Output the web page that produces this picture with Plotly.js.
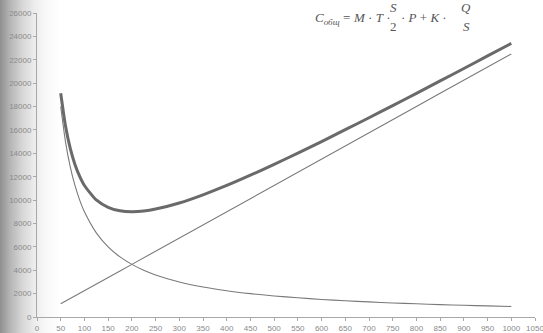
<!DOCTYPE html>
<html>
<head>
<meta charset="utf-8">
<script src="https://cdn.plot.ly/plotly-3.0.1.min.js"></script>
<style>
html,body{margin:0;padding:0;}
body{width:543px;height:333px;overflow:hidden;
background:linear-gradient(to right,#8f8f8f 0px,#b5b5b5 10px,#d6d6d6 22px,#ececec 34px,#f8f8f8 46px,#ffffff 60px);}
#chart{width:543px;height:333px;}
</style>
</head>
<body>
<div id="chart"></div>
<script>
// Order size S
var orderSize = [50,60,70,80,90,100,125,150,175,200,225,250,300,350,400,450,500,550,600,650,700,750,800,850,900,950,1000];
// Ordering cost K*Q/S
var orderingCost = [18000,15000,12860,11250,10000,9000,7200,6000,5140,4500,4000,3600,3000,2570,2250,2000,1800,1640,1500,1390,1290,1200,1130,1060,1000,950,900];
// Holding cost M*T*S/2*P
var holdingCost = [1130,1350,1580,1800,2030,2250,2810,3380,3940,4500,5060,5630,6750,7880,9000,10130,11250,12380,13500,14630,15750,16880,18000,19130,20250,21380,22500];
// Total cost
var totalCost = [19130,16350,14440,13050,12030,11250,10010,9380,9080,9000,9060,9230,9750,10450,11250,12130,13050,14020,15000,16020,17040,18080,19130,20190,21250,22330,23400];

var xTicks = [0,50,100,150,200,250,300,350,400,450,500,550,600,650,700,750,800,850,900,950,1000,1050];
var yTicks = [0,2000,4000,6000,8000,10000,12000,14000,16000,18000,20000,22000,24000,26000];

var traces = [
  {x: orderSize, y: orderingCost, mode:'lines', line:{color:'#7a7a7a', width:1.1, shape:'spline', smoothing:0.6}, hoverinfo:'skip'},
  {x: orderSize, y: holdingCost, mode:'lines', line:{color:'#7a7a7a', width:1.1}, hoverinfo:'skip'},
  {x: orderSize, y: totalCost, mode:'lines', line:{color:'#6a6a6a', width:3, shape:'spline', smoothing:0.6}, hoverinfo:'skip'}
];

var W = 543, H = 333, L = 37, R = 8, T = 13, B = 16;
function px(x){ return (x - L) / (W - L - R); }
function py(y){ return (H - B - y) / (H - T - B); }
var ff = {family:'"Liberation Serif", "DejaVu Serif", serif', size:13, color:'#555'};
function ann(text, x, y, xa){
  return {text:text, x:px(x), y:py(y), xref:'paper', yref:'paper', xanchor:xa||'center', yanchor:'middle', showarrow:false, font:ff};
}
var annotations = [
  ann('<i>C</i><sub><i>общ</i></sub>', 313, 18, 'left'),
  ann('=', 346, 17),
  ann('<i>M</i> · <i>T</i> ·', 351, 17, 'left'),
  ann('<i>S</i>', 393, 7),
  ann('2', 393, 27),
  ann('· <i>P</i> + <i>K</i> ·', 399, 17, 'left'),
  ann('<i>Q</i>', 466, 7),
  ann('<i>S</i>', 466, 27)
];

var axisCommon = {showgrid:false, zeroline:false, showline:true, linecolor:'#a8a8a8', linewidth:1,
  ticks:'outside', ticklen:3, tickcolor:'#a8a8a8', tickfont:{size:8, color:'#8a8a8a'},
  ticklabeloverflow:'allow', fixedrange:true};

var layout = {
  width: W, height: H,
  margin: {l:L, r:R, t:T, b:B, pad:0},
  paper_bgcolor:'rgba(0,0,0,0)', plot_bgcolor:'rgba(0,0,0,0)',
  showlegend:false,
  font:{family:'"Liberation Sans", Arial, sans-serif', size:8, color:'#8a8a8a'},
  xaxis:Object.assign({range:[0,1050], tickvals:xTicks, ticktext:xTicks.map(String)}, axisCommon),
  yaxis:Object.assign({range:[0,26000], tickvals:yTicks, ticktext:yTicks.map(String)}, axisCommon),
  annotations: annotations
};

Plotly.newPlot('chart', traces, layout, {displayModeBar:false, staticPlot:true});
</script>
</body>
</html>
